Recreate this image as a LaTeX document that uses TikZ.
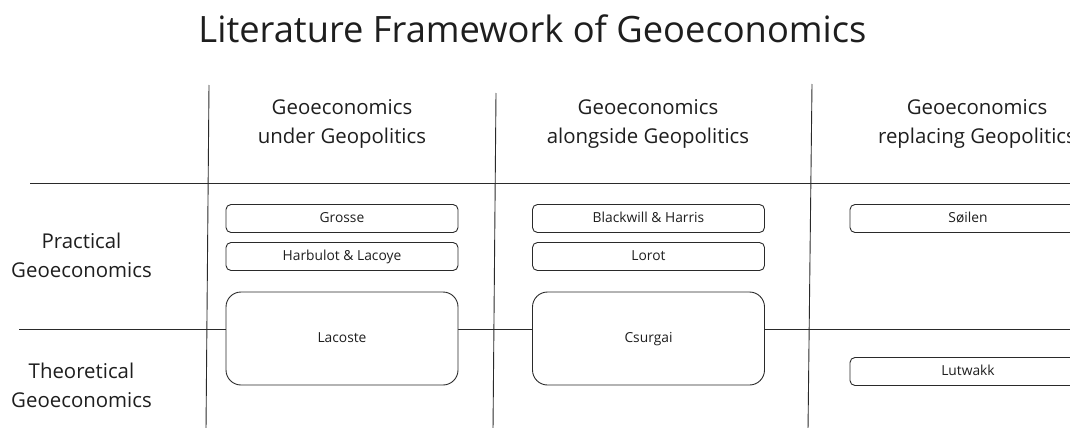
\documentclass[tikz,border=0pt]{standalone}
\usepackage{fontspec}
\setmainfont{Open Sans}
\definecolor{ink}{HTML}{1E1E1E}
\definecolor{rule}{HTML}{2A2A2A}
\begin{document}
\begin{tikzpicture}[x=1pt,y=-1pt,
  gridline/.style={draw=rule,line width=0.9pt},
  heading/.style={text=ink,inner sep=0pt,anchor=base,align=center,
    font=\fontsize{20.4}{28.5}\selectfont},
  titletext/.style={text=ink,inner sep=0pt,anchor=base,
    font=\fontsize{36.3}{44}\selectfont},
  author/.style={draw=rule,line width=0.9pt,fill=white,text=ink,
    rounded corners=5pt,inner sep=0pt,minimum height=28pt,
    text height=10.5pt,text depth=3pt,
    font=\fontsize{13.8}{16}\selectfont},
  widebox/.style={author,minimum width=232pt},
  tallbox/.style={widebox,minimum height=93pt,rounded corners=15pt},
]
\useasboundingbox (0,0) rectangle (1070,428);
\clip (0,0) rectangle (1070,428);

% title
\node[titletext] (title) at (532.5,42) {Literature Framework of Geoeconomics};

% grid
\coordinate (v1t) at (209,85);  \coordinate (v1b) at (206,430);
\coordinate (v2t) at (496,93);  \coordinate (v2b) at (493,430);
\coordinate (v3t) at (812,84);  \coordinate (v3b) at (808,430);
\coordinate (h1l) at (30,183);  \coordinate (h1r) at (1072,183);
\coordinate (h2l) at (19,329);  \coordinate (h2r) at (1072,329);
\draw[gridline] (v1t) -- (v1b);
\draw[gridline] (v2t) -- (v2b);
\draw[gridline] (v3t) -- (v3b);
\draw[gridline] (h1l) -- (h1r);
\draw[gridline] (h2l) -- (h2r);

% column headings (anchor is the baseline of the last line)
\node[heading] (c1) at (342,143) {Geoeconomics\\under Geopolitics};
\node[heading] (c2) at (648,143) {Geoeconomics\\alongside Geopolitics};
\node[heading] (c3) at (977,143) {Geoeconomics\\replacing Geopolitics};

% row headings
\node[heading] (r1) at (81.5,277) {Practical\\Geoeconomics};
\node[heading] (r2) at (81.5,407) {Theoretical\\Geoeconomics};

% authors
\node[widebox] (grosse)   at (342,218.5)   {Grosse};
\node[widebox] (harbulot) at (342,256.5)   {Harbulot \& Lacoye};
\node[tallbox] (lacoste)  at (342,338.5) {Lacoste};
\node[widebox] (blackwill) at (648.5,218.5)   {Blackwill \& Harris};
\node[widebox] (lorot)     at (648.5,256.5)   {Lorot};
\node[tallbox] (csurgai)   at (648.5,338.5) {Csurgai};
\node[author,minimum width=236pt] (soilen)  at (968,218.5) {Søilen};
\node[author,minimum width=236pt] (lutwakk) at (968,371.5) {Lutwakk};
\end{tikzpicture}
\end{document}
